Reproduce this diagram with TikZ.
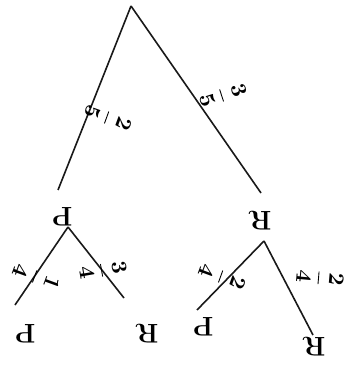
\documentclass[tikz,border=0pt]{standalone}
\usepackage{amsmath}
\usetikzlibrary{positioning}

\begin{document}
\begin{tikzpicture}[
    x=1pt, y=-1pt,
    branch/.style={line width=1.6pt, black!90},
    outcome/.style={font=\fontsize{27}{27}\selectfont\bfseries, rotate=180, inner sep=1pt},
    prob/.style={scale=2.2, inner sep=0pt, font=\boldmath}
  ]
    \useasboundingbox (0,0) rectangle (350,371);

    % -- first draw --
    \coordinate (root) at (131,6);
    \node[outcome] (p1) at (62,217) {P};
    \node[outcome] (r1) at (260,221) {R};

    % -- second draw --
    \node[outcome] (pp) at (25,334) {P};
    \node[outcome] (pr) at (147,334) {R};
    \node[outcome] (rp) at (203,327) {P};
    \node[outcome] (rr) at (314,347) {R};

    % -- branches --
    \draw[branch] (root) -- ([shift={(-4,-27)}]p1.center);
    \draw[branch] (root) -- ([shift={(1,-28)}]r1.center);
    \draw[branch] ([shift={(6,10)}]p1.center) -- ([shift={(-10,-29)}]pp.center);
    \draw[branch] ([shift={(6,10)}]p1.center) -- ([shift={(-23,-36)}]pr.center);
    \draw[branch] ([shift={(4,20)}]r1.center) -- ([shift={(-6,-17)}]rp.center);
    \draw[branch] ([shift={(4,20)}]r1.center) -- ([shift={(-1,-12)}]rr.center);

    % -- probabilities --
    \node[prob, rotate=-110] (q25) at (108,118) {$\dfrac{2}{5}$};
    \node[prob, rotate=-72] (q35) at (223,95) {$\dfrac{3}{5}$};
    \node[prob, rotate=-110] (q14) at (36,277) {$\dfrac{1}{4}$};
    \node[prob, rotate=-80] (q34) at (103,270) {$\dfrac{3}{4}$};
    \node[prob, rotate=-110] (q24a) at (222,277) {$\dfrac{2}{4}$};
    \node[prob, rotate=-95] (q24b) at (320,278) {$\dfrac{2}{4}$};

  \end{tikzpicture}
\end{document}
